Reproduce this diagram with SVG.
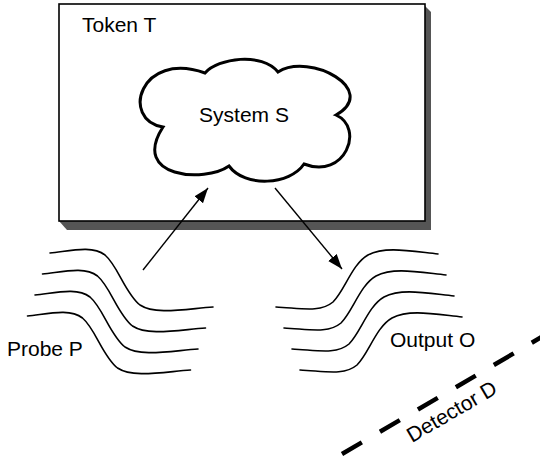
<svg xmlns="http://www.w3.org/2000/svg" width="540" height="459" viewBox="0 0 540 459">
  <style>
    .label { font-family: "Liberation Sans", Arial, sans-serif; font-size: 21px; fill: #000; }
    .wave { fill: none; stroke: #000; stroke-width: 1.6; stroke-linecap: round; }
    .arrow { fill: none; stroke: #000; stroke-width: 1.4; }
  </style>
  <defs>
    <marker id="head" markerUnits="userSpaceOnUse" markerWidth="16" markerHeight="12" refX="15" refY="5.5" orient="auto">
      <path d="M0,0 L15,5.5 L0,11 z" fill="#000"/>
    </marker>
    <path id="waveL" d="M50,253 C70,251 92,245 105,255 C118,266 125,293 140,305 C155,315 185,309 213,307"/>
    <path id="waveR" d="M276,307 C300,308 320,313 333,302 C345,290 352,264 368,255 C385,246 410,251 438,254"/>
  </defs>

  <rect width="540" height="459" fill="#fff"/>

  <!-- token frame with drop shadow -->
  <g id="token">
    <polygon points="425,6 431,12 431,230 67,230 59,221" fill="#555"/>
    <rect x="59" y="4" width="366" height="217" fill="#fff" stroke="#000" stroke-width="1.6"/>
    <text class="label" x="82" y="32">Token T</text>
  </g>

  <!-- system cloud -->
  <g id="system">
    <path d="M205,73 C218,58 262,52 278,72 C310,52 380,90 336,115 C365,128 345,180 304,164 C290,185 245,188 229,166 C205,183 130,178 163,127 C120,120 140,50 205,73 Z"
          fill="#fff" stroke="#000" stroke-width="3" stroke-linejoin="miter"/>
    <text class="label" x="244" y="122" text-anchor="middle">System S</text>
  </g>

  <!-- probe waves -->
  <g id="probe">
    <use href="#waveL" class="wave"/>
    <use href="#waveL" class="wave" transform="translate(-7.5,21)"/>
    <use href="#waveL" class="wave" transform="translate(-15,42)"/>
    <use href="#waveL" class="wave" transform="translate(-22.5,63)"/>
    <text class="label" x="7" y="356">Probe P</text>
  </g>

  <!-- output waves -->
  <g id="output">
    <use href="#waveR" class="wave"/>
    <use href="#waveR" class="wave" transform="translate(8,21)"/>
    <use href="#waveR" class="wave" transform="translate(16,42)"/>
    <use href="#waveR" class="wave" transform="translate(24,63)"/>
    <text class="label" x="390" y="347">Output O</text>
  </g>

  <!-- detector plane -->
  <g id="detector">
    <line x1="342" y1="454" x2="545" y2="335" stroke="#000" stroke-width="4.5" stroke-dasharray="23 21"/>
    <text class="label" x="0" y="0" transform="translate(412,443) rotate(-30.3)">Detector D</text>
  </g>

  <!-- connectors -->
  <g id="connectors">
    <line class="arrow" x1="143" y1="270" x2="208" y2="188" marker-end="url(#head)"/>
    <line class="arrow" x1="275" y1="188" x2="342" y2="269" marker-end="url(#head)"/>
  </g>
</svg>
